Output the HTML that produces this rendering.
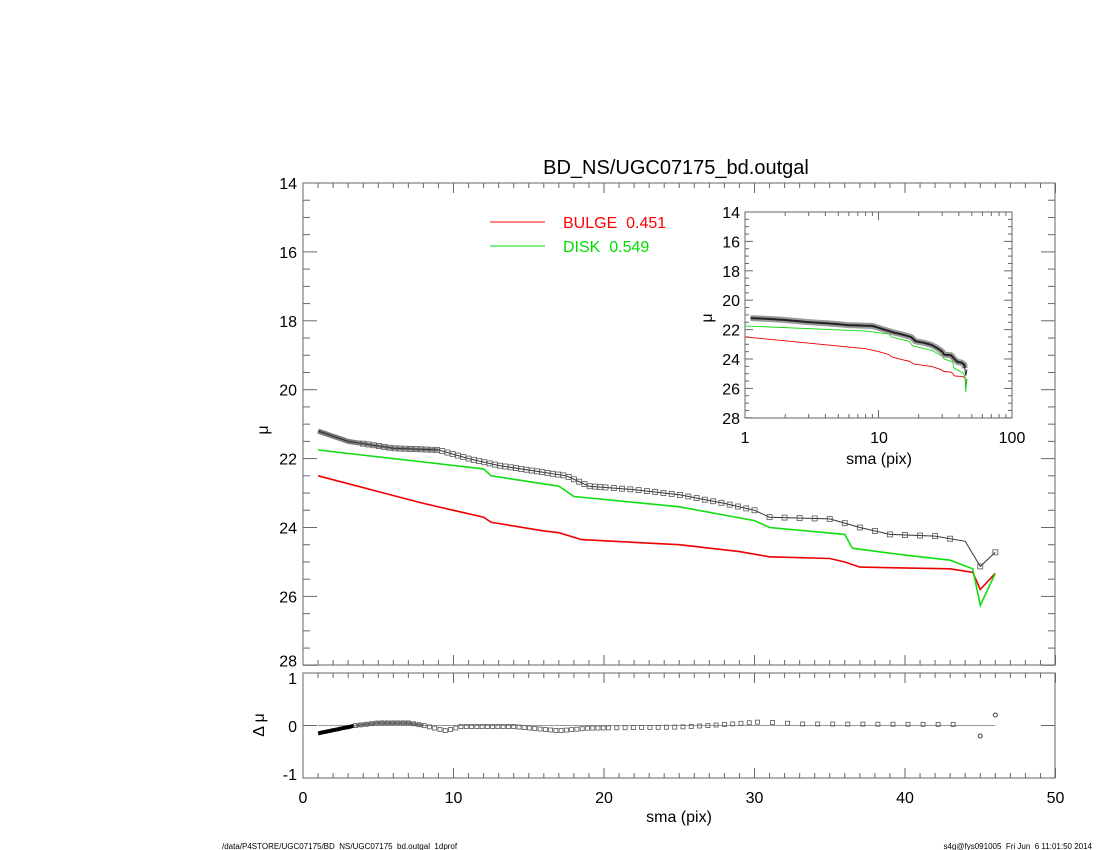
<!DOCTYPE html>
<html><head><meta charset="utf-8"><style>
body{margin:0;background:#fff;}
svg{display:block;font-family:"Liberation Sans",sans-serif;}
</style></head><body>
<svg id="s" width="1100" height="850" xmlns="http://www.w3.org/2000/svg"></svg>
<script>
const s=document.getElementById('s');let h='';
const X=x=>303+15.05*x, Y=m=>183+34.45*(m-14);
const RY=r=>725.5-52.5*r;
function interp(pts,x){for(let i=0;i<pts.length-1;i++){if(x>=pts[i][0]&&x<=pts[i+1][0]){const t=(x-pts[i][0])/(pts[i+1][0]-pts[i][0]);return pts[i][1]+t*(pts[i+1][1]-pts[i][1]);}}return pts[pts.length-1][1];}
const dat=[[1,21.2],[3,21.5],[6,21.7],[9,21.75],[11,22.0],[13,22.2],[16,22.4],[17.5,22.5],[19,22.8],[22,22.9],[25,23.05],[28,23.3],[30,23.5],[31,23.7],[35,23.75],[37,24.0],[39,24.2],[42,24.25],[44,24.4],[45,25.13],[46,24.72]];
const grn=[[1,21.75],[8,22.1],[12,22.3],[12.5,22.5],[17,22.8],[18,23.1],[25,23.4],[30,23.8],[31,24.0],[36,24.2],[36.5,24.6],[40,24.8],[43,24.95],[44.5,25.2],[45,26.26],[46,25.33]];
const red=[[1,22.5],[8,23.3],[10,23.5],[12,23.7],[12.5,23.85],[16,24.1],[17,24.15],[18.5,24.35],[25,24.5],[29,24.7],[31,24.85],[35,24.9],[36,25.0],[37,25.15],[43,25.2],[44.5,25.3],[45,25.8],[46,25.33]];
const res=[[1,-0.15],[3.5,0],[5,0.05],[7,0.05],[8,0],[9.5,-0.1],[10.5,-0.02],[14,-0.02],[17,-0.1],[19,-0.05],[25,-0.03],[27,0],[30.5,0.07],[33,0.03],[44,0.02],[45,-0.2],[46,0.2]];
const poly=(p,c,w,fx,fy)=>`<polyline fill="none" stroke="${c}" stroke-width="${w}" points="${p.map(q=>fx(q[0]).toFixed(1)+','+fy(q[1]).toFixed(1)).join(' ')}"/>`;
h+=`<text x="676" y="174" font-size="20" text-anchor="middle">BD_NS/UGC07175_bd.outgal</text>`;
h+=`<rect x="303" y="183" width="752" height="482" fill="none" stroke="#666" stroke-width="1"/>`;
for(let x=0;x<=50;x++){const px=X(x),l=x%10==0?10:5;h+=`<line x1="${px}" y1="665" x2="${px}" y2="${665-l}" stroke="#666"/><line x1="${px}" y1="183" x2="${px}" y2="${183+l}" stroke="#666"/>`;}
for(let m=14;m<=28;m+=0.5){const py=Y(m),l=(m%2==0)?14:7;h+=`<line x1="303" y1="${py}" x2="${303+l}" y2="${py}" stroke="#666"/><line x1="1055" y1="${py}" x2="${1055-l}" y2="${py}" stroke="#666"/>`;if(m%2==0)h+=`<text x="297" y="${m==28?py+1:py+6}" font-size="16" text-anchor="end">${m}</text>`;}
h+=`<text x="268" y="430" font-size="16" transform="rotate(-90 268 430)" text-anchor="middle">μ</text>`;
h+=`<line x1="490" y1="222" x2="545" y2="222" stroke="#f00"/><text x="563" y="228" font-size="16" fill="#f00" xml:space="preserve">BULGE  0.451</text>`;
h+=`<line x1="490" y1="246" x2="545" y2="246" stroke="#0d0"/><text x="563" y="252" font-size="16" fill="#0d0" xml:space="preserve">DISK  0.549</text>`;
h+=poly(red,'#e00',1.6,X,Y)+poly(grn,'#1d1',1.6,X,Y);
let d=[];for(let x=1;x<=4;x+=0.1)d.push([x,interp(dat,x)]);
h+=poly(d,'#777',5,X,Y);
let d2=[];for(let x=3.5;x<=9;x+=0.1)d2.push([x,interp(dat,x)]);
h+=poly(d2,'#888',3.5,X,Y);
h+=poly(dat,'#333',1,X,Y);
for(let x=4;x<=44;x+=(x<20?0.35:(x<30?0.55:1))){const m=interp(dat,x);h+=`<rect x="${X(x)-2.5}" y="${Y(m)-2.5}" width="5" height="5" fill="none" stroke="#555" stroke-width="0.8"/>`;}
[45,46].forEach(x=>{h+=`<rect x="${X(x)-2.5}" y="${Y(interp(dat,x))-2.5}" width="5" height="5" fill="none" stroke="#555" stroke-width="0.8"/>`;});
h+=`<rect x="303" y="673" width="752" height="105" fill="none" stroke="#666"/>`;
for(let x=0;x<=50;x++){const px=X(x),l=x%10==0?10:5;h+=`<line x1="${px}" y1="778" x2="${px}" y2="${778-l}" stroke="#666"/><line x1="${px}" y1="673" x2="${px}" y2="${673+l}" stroke="#666"/>`;if(x%10==0)h+=`<text x="${px}" y="803" font-size="16" text-anchor="middle">${x}</text>`;}
[[1,684],[0,732],[-1,780]].forEach(a=>{const py=RY(a[0]);h+=`<line x1="303" y1="${py}" x2="317" y2="${py}" stroke="#666"/><line x1="1055" y1="${py}" x2="1041" y2="${py}" stroke="#666"/><text x="297" y="${a[1]}" font-size="16" text-anchor="end">${a[0]}</text>`;});
h+=`<line x1="${X(1)}" y1="${RY(0)}" x2="${X(46)}" y2="${RY(0)}" stroke="#999"/>`;
let rd=[];for(let x=1;x<=3.5;x+=0.1)rd.push([x,interp(res,x)]);
h+=poly(rd,'#000',4,X,RY);
let rd2=[];for(let x=3.5;x<=8;x+=0.1)rd2.push([x,interp(res,x)]);
h+=poly(rd2,'#777',3,X,RY);
for(let x=3.5;x<=44;x+=(x<20?0.35:(x<30?0.55:1))){h+=`<rect x="${X(x)-2}" y="${RY(interp(res,x))-2}" width="4" height="4" fill="none" stroke="#555" stroke-width="0.8"/>`;}
[45,46].forEach(x=>{h+=`<circle cx="${X(x)}" cy="${RY(interp(res,x))}" r="2" fill="none" stroke="#444"/>`;});
h+=`<text x="264" y="725" font-size="16" transform="rotate(-90 264 725)" text-anchor="middle">Δ μ</text>`;
h+=`<text x="679" y="822" font-size="16" text-anchor="middle">sma (pix)</text>`;
const IX=x=>745+133.5*Math.log10(x), IY=m=>212+14.7*(m-14);
h+=`<rect x="745" y="212" width="267" height="206" fill="#fff" stroke="#666"/>`;
for(let dd=1;dd<=2;dd++)for(let k=1;k<=9;k++){const v=k*Math.pow(10,dd-1),px=IX(v),l=k==1?8:4;h+=`<line x1="${px}" y1="418" x2="${px}" y2="${418-l}" stroke="#666"/><line x1="${px}" y1="212" x2="${px}" y2="${212+l}" stroke="#666"/>`;}
[[1,745],[10,879],[100,1012]].forEach(a=>h+=`<text x="${a[1]}" y="443" font-size="16" text-anchor="middle">${a[0]}</text>`);
for(let m=14;m<=28;m+=0.5){const py=IY(m),l=(m%2==0)?8:4;h+=`<line x1="745" y1="${py}" x2="${745+l}" y2="${py}" stroke="#666"/><line x1="1012" y1="${py}" x2="${1012-l}" y2="${py}" stroke="#666"/>`;if(m%2==0)h+=`<text x="740" y="${py+6}" font-size="16" text-anchor="end">${m}</text>`;}
h+=`<text x="712" y="318" font-size="16" transform="rotate(-90 712 318)" text-anchor="middle">μ</text>`;
h+=`<text x="879" y="464" font-size="16" text-anchor="middle">sma (pix)</text>`;
h+=poly(red,'#e00',0.9,IX,IY)+poly(grn,'#1d1',0.9,IX,IY);
let di=[];for(let x=1.1;x<=44.5;x+=0.2)di.push([x,interp(dat,x)]);
h+=poly(di,'#999',6,IX,IY)+poly(di,'#222',2,IX,IY)+poly(dat.slice(-3),'#222',1,IX,IY);
s.innerHTML=h+`<text x="222" y="849" font-size="8">/data/P4STORE/UGC07175/BD_NS/UGC07175_bd.outgal_1dprof</text><text x="1092" y="849" font-size="8" text-anchor="end" xml:space="preserve">s4g@fys091005  Fri Jun  6 11:01:50 2014</text>`;
</script>
</body></html>
